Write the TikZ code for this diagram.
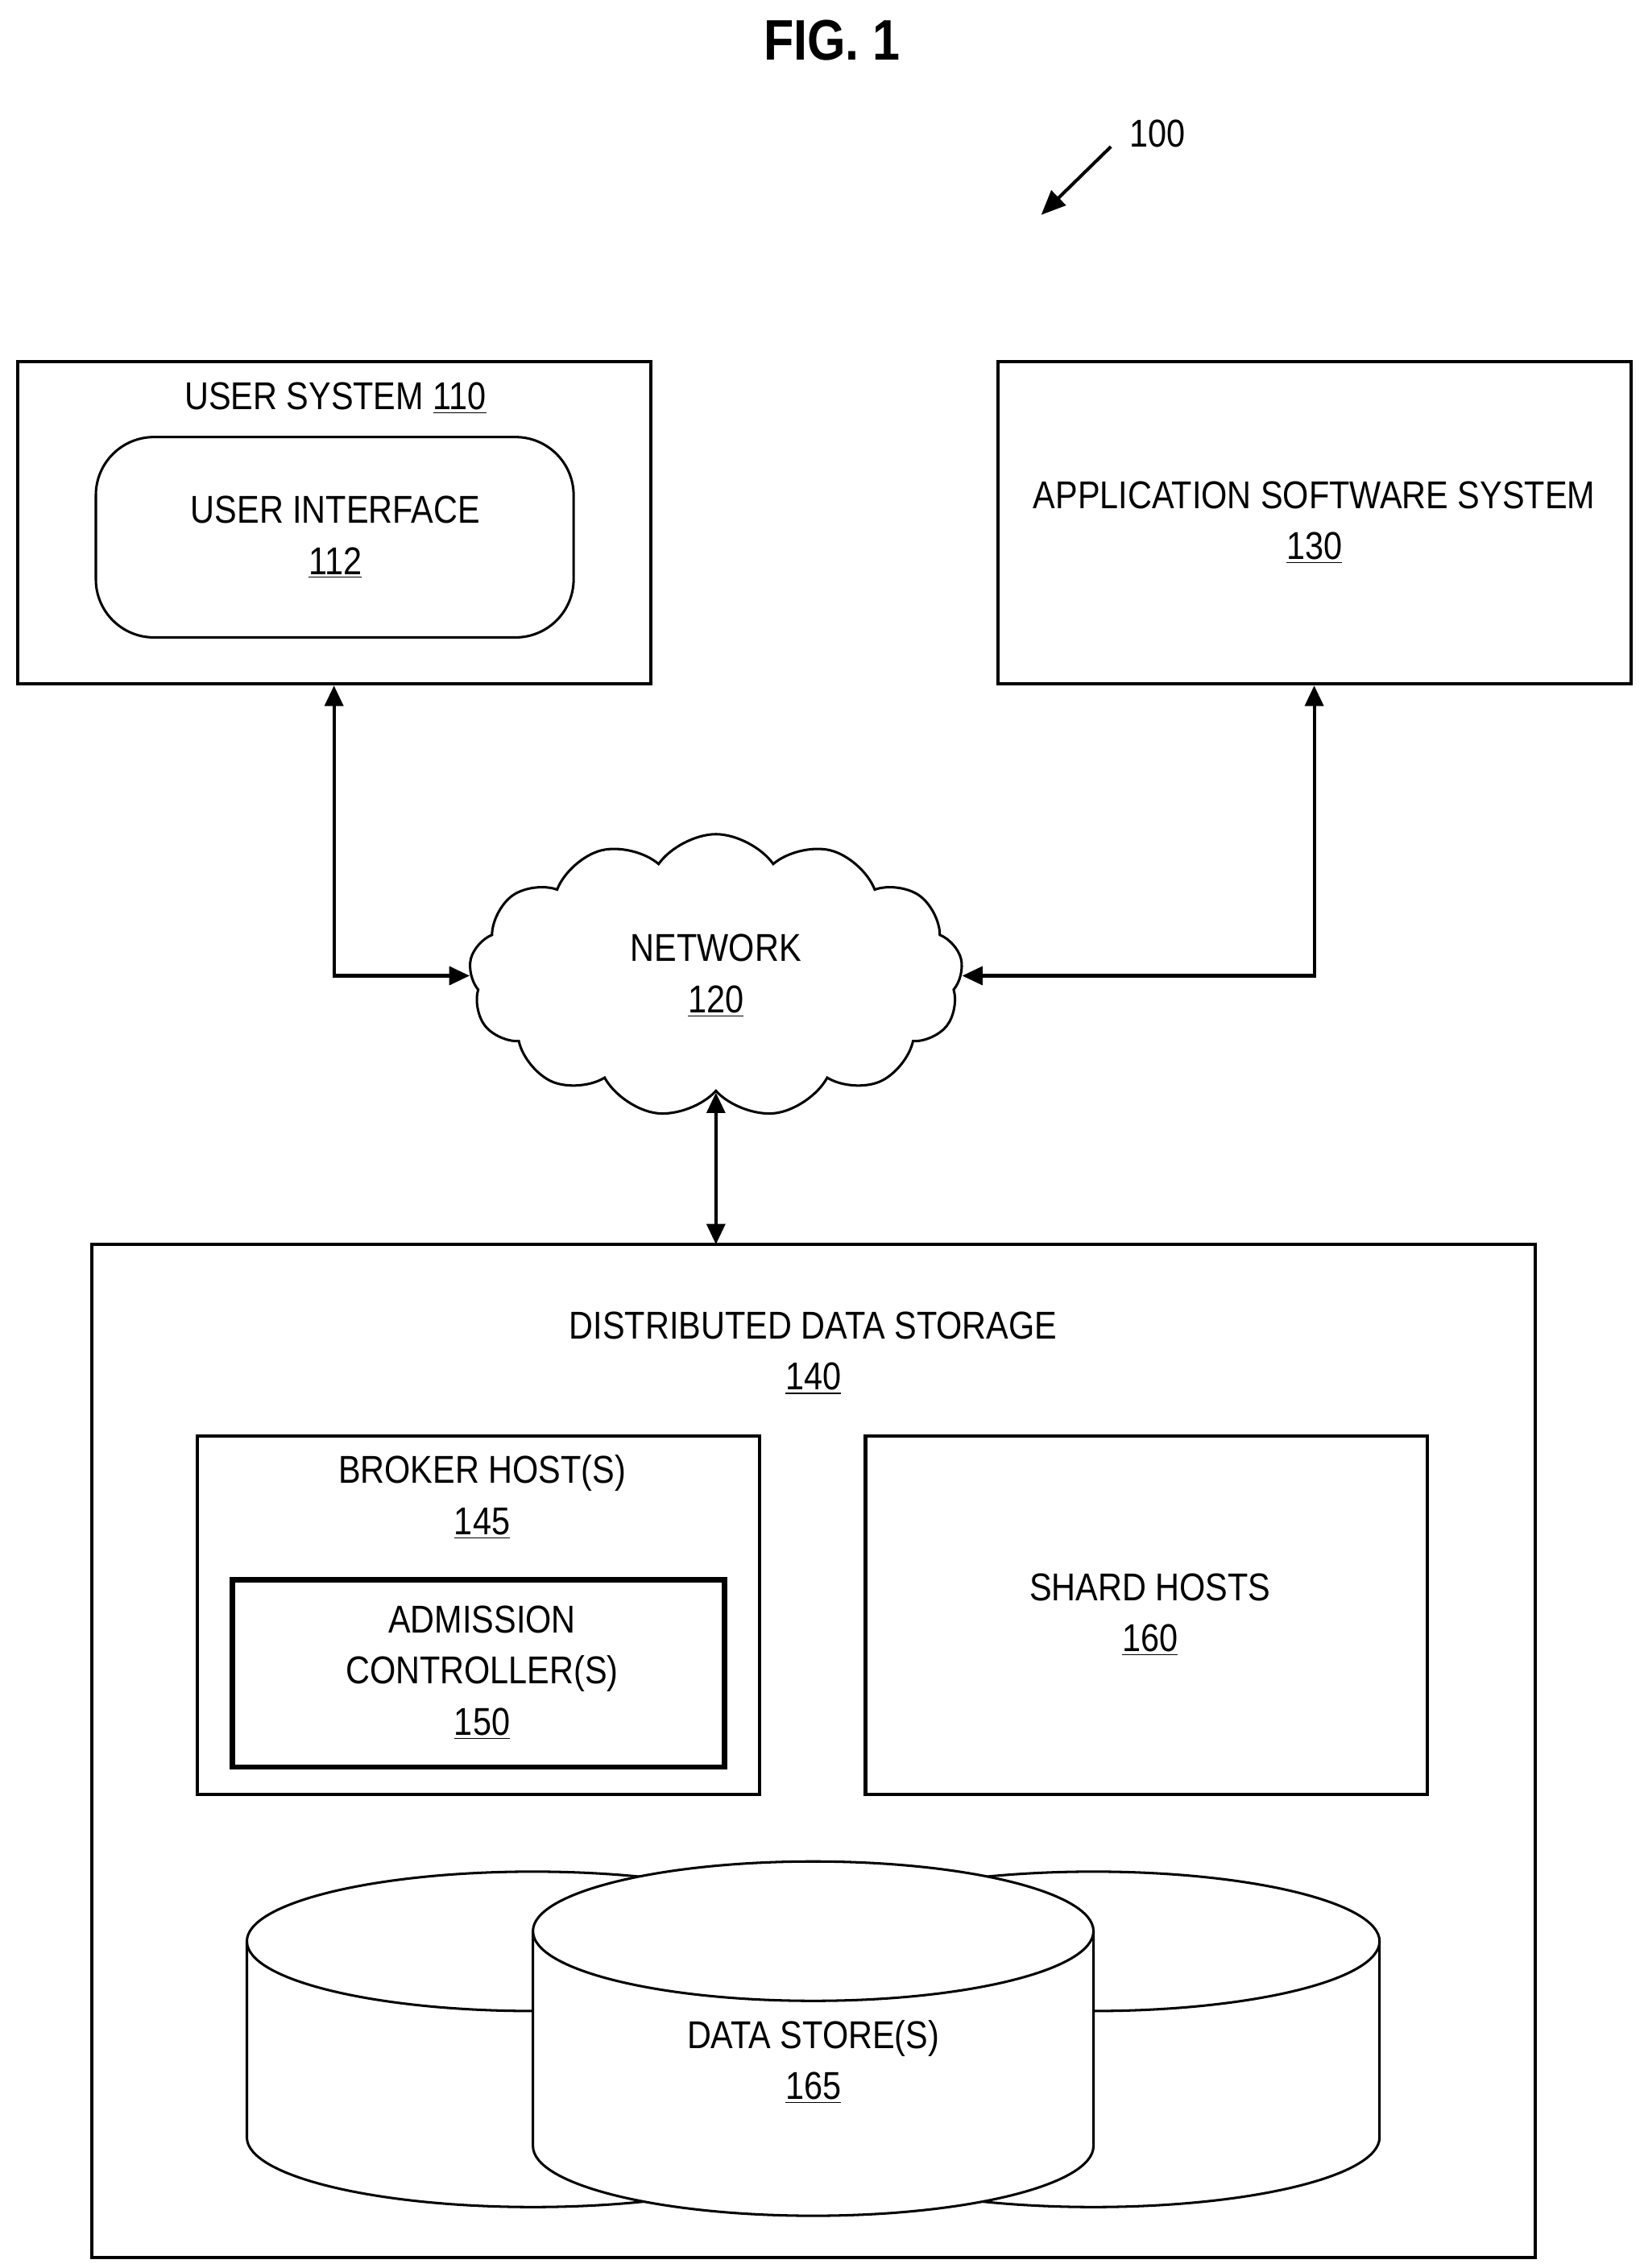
\documentclass[tikz,border=0pt]{standalone}
\usepackage{fontspec}
\setmainfont[FakeStretch=0.86]{Liberation Sans}
\usetikzlibrary{shapes.symbols,arrows.meta}
\begin{document}
\begin{tikzpicture}[x=0.025cm,y=-0.025cm,
  lbl/.style={font=\fontsize{19}{24}\selectfont,align=center,inner sep=0},
  box/.style={draw,line width=1.6pt},
  conn/.style={line width=1.6pt,{Triangle[length=10pt,width=9pt]}-{Triangle[length=10pt,width=9pt]}}]
\useasboundingbox (0,0) rectangle (1132,1562);
\node[font=\fontsize{28}{32}\selectfont\bfseries] (fig) at (573,28) {FIG. 1};
\node[lbl] (n100) at (797,92) {100};
\coordinate (a1) at (765,101);
\coordinate (a2) at (717,148);
\draw[line width=1.6pt,-{Triangle[length=12pt,width=10pt]}] (a1) -- (a2);
% user system
\node[box,minimum width=436*0.025cm,minimum height=222*0.025cm] (us) at (230,360) {};
\node[lbl] (usl) at (231,274) {USER SYSTEM \underline{110}};
\node[box,rounded corners=1cm,minimum width=329*0.025cm,minimum height=138*0.025cm,line width=1.2pt] (ui) at (230.5,370) {};
\node[lbl] (uil) at (231,370) {USER INTERFACE\\[1pt]\underline{112}};
% app
\node[box,minimum width=436*0.025cm,minimum height=222*0.025cm] (app) at (905,360) {};
\node[lbl] (appl) at (905,360) {APPLICATION SOFTWARE SYSTEM\\[1pt]\underline{130}};
% network cloud
\node[cloud,draw,line width=1.2pt,cloud puffs=13,cloud puff arc=110,aspect=1.6,minimum width=340*0.025cm,minimum height=195*0.025cm,inner sep=0] (net) at (493,672) {};
\node[lbl] (netl) at (493,672) {NETWORK\\[1pt]\underline{120}};
\draw[conn] (net.west) -| (us.south);
\draw[conn] (net.east) -| (app.south);
\draw[conn] (net.south) -- (493,857);
% DDS
\node[box,minimum width=994*0.025cm,minimum height=698*0.025cm] (dds) at (560,1206) {};
\node[lbl] (ddsl) at (560,932) {DISTRIBUTED DATA STORAGE\\[1pt]\underline{140}};
\node[box,minimum width=387*0.025cm,minimum height=247*0.025cm] (bro) at (329.5,1112.5) {};
\node[lbl] (brol) at (332,1031) {BROKER HOST(S)\\[1pt]\underline{145}};
\node[draw,line width=2.6pt,minimum width=339*0.025cm,minimum height=129*0.025cm] (adm) at (329.5,1152.5) {};
\node[lbl] (adml) at (332,1152) {ADMISSION\\[1pt]CONTROLLER(S)\\[1pt]\underline{150}};
\node[box,minimum width=387*0.025cm,minimum height=247*0.025cm] (sh) at (789.5,1112.5) {};
\node[lbl] (shl) at (792,1112) {SHARD HOSTS\\[1pt]\underline{160}};
% cylinders
\foreach \cx/\rx/\ta/\tb in {367/197/1337/1472, 753/197/1337/1472, 560/193/1330/1478}{
  \draw[line width=1.2pt,fill=white] (\cx-\rx,\ta) -- (\cx-\rx,\tb) arc[start angle=180,end angle=0,x radius=\rx,y radius=48] -- (\cx+\rx,\ta) arc[start angle=0,end angle=-180,x radius=\rx,y radius=48] -- cycle;
  \draw[line width=1.2pt] (\cx-\rx,\ta) arc[start angle=180,end angle=0,x radius=\rx,y radius=48];
}
\node[lbl] (dsl) at (560,1420) {DATA STORE(S)\\[1pt]\underline{165}};
\end{tikzpicture}
\end{document}
